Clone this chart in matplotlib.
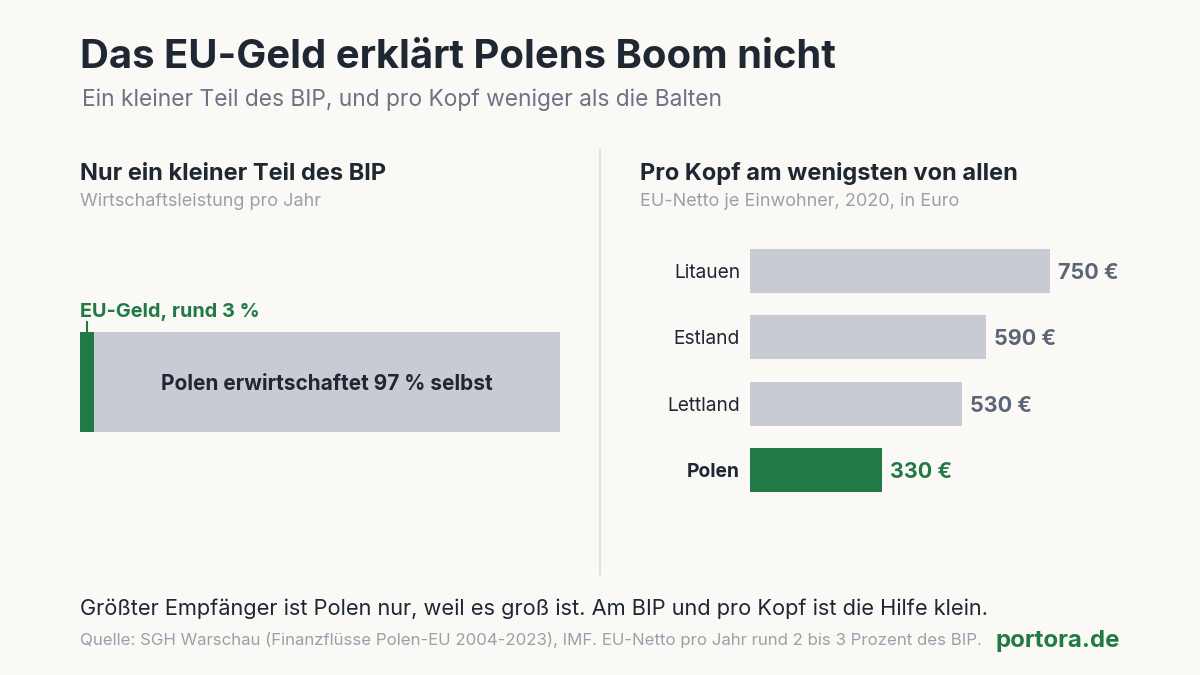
import matplotlib.pyplot as plt

plt.rcParams['font.family'] = ['Inter', 'DejaVu Sans']

# data
eu_share = 3
own_share = 97
countries = ['Litauen', 'Estland', 'Lettland', 'Polen']
per_capita = [750, 590, 530, 330]

green = '#217a45'
grey_bar = '#c8cbd3'
dark = '#1f2733'
mid = '#5c6577'
light = '#9aa0aa'
bg = '#faf9f6'

W, H = 1200, 675
fig = plt.figure(figsize=(12, 6.75), dpi=100, facecolor=bg)


def fx(x):
    return x / W


def fy(y):
    return 1 - y / H


def add_ax(x0, y0, x1, y1):
    ax = fig.add_axes([fx(x0), fy(y1), (x1 - x0) / W, (y1 - y0) / H])
    ax.set_facecolor('none')
    ax.axis('off')
    return ax


# header
fig.text(fx(80), fy(53), 'Das EU-Geld erklärt Polens Boom nicht', fontsize=28.8,
         fontweight='bold', color=dark, va='center_baseline')
fig.text(fx(82), fy(97), 'Ein kleiner Teil des BIP, und pro Kopf weniger als die Balten',
         fontsize=16.4, color='#6b7384', va='center_baseline')

# panel headings
fig.text(fx(80), fy(171), 'Nur ein kleiner Teil des BIP', fontsize=17,
         fontweight='bold', color=dark, va='center_baseline')
fig.text(fx(80), fy(200), 'Wirtschaftsleistung pro Jahr', fontsize=13,
         color=light, va='center_baseline')
fig.text(fx(640), fy(171), 'Pro Kopf am wenigsten von allen', fontsize=17,
         fontweight='bold', color=dark, va='center_baseline')
fig.text(fx(640), fy(200), 'EU-Netto je Einwohner, 2020, in Euro', fontsize=13,
         color=light, va='center_baseline')

# divider
fig.add_artist(plt.Line2D([fx(600), fx(600)], [fy(150), fy(575)], color='#dcdcdc', lw=1.2))

# left: share of GDP
ax1 = add_ax(80, 332, 560, 432)
ax1.barh([0], [eu_share], height=1, color=green, align='edge')
ax1.barh([0], [own_share], left=[eu_share], height=1, color=grey_bar, align='edge')
ax1.set_xlim(0, 100)
ax1.set_ylim(0, 1)
ax1.text(eu_share + own_share / 2, 0.5, f'Polen erwirtschaftet {own_share} % selbst',
         ha='center', va='center_baseline', fontsize=15, fontweight='bold', color=dark)
fig.add_artist(plt.Line2D([fx(87), fx(87)], [fy(322), fy(332)], color=green, lw=1.5))
fig.text(fx(80), fy(310), f'EU-Geld, rund {eu_share} %', fontsize=14.3,
         fontweight='bold', color=green, va='center_baseline')

# right: per capita
ax2 = add_ax(750, 238, 1150, 503)
ypos = list(range(len(countries)))
colors = [green if c == 'Polen' else grey_bar for c in countries]
ax2.barh(ypos, per_capita, height=0.667, color=colors)
ax2.set_xlim(0, 1000)
ax2.set_ylim(len(countries) - 0.5, -0.5)
for i, (c, v) in enumerate(zip(countries, per_capita)):
    pol = c == 'Polen'
    ax2.text(v + 20, i, f'{v} €', va='center_baseline', ha='left', fontsize=15.5,
             fontweight='bold', color=green if pol else mid)
    ax2.text(-25, i, c, va='center_baseline', ha='right', fontsize=13.8,
             fontweight='bold' if pol else 'normal', color=dark)

# footer
fig.text(fx(80), fy(607), 'Größter Empfänger ist Polen nur, weil es groß ist. Am BIP und pro Kopf ist die Hilfe klein.',
         fontsize=15.7, color=dark, va='center_baseline')
fig.text(fx(80), fy(639), 'Quelle: SGH Warschau (Finanzflüsse Polen-EU 2004-2023), IMF. EU-Netto pro Jahr rund 2 bis 3 Prozent des BIP.',
         fontsize=12.1, color=light, va='center_baseline')
fig.text(fx(1120), fy(638), 'portora.de', fontsize=17.3, fontweight='bold',
         color=green, va='center_baseline', ha='right')

fig.savefig('out.png', dpi=100, facecolor=bg)
